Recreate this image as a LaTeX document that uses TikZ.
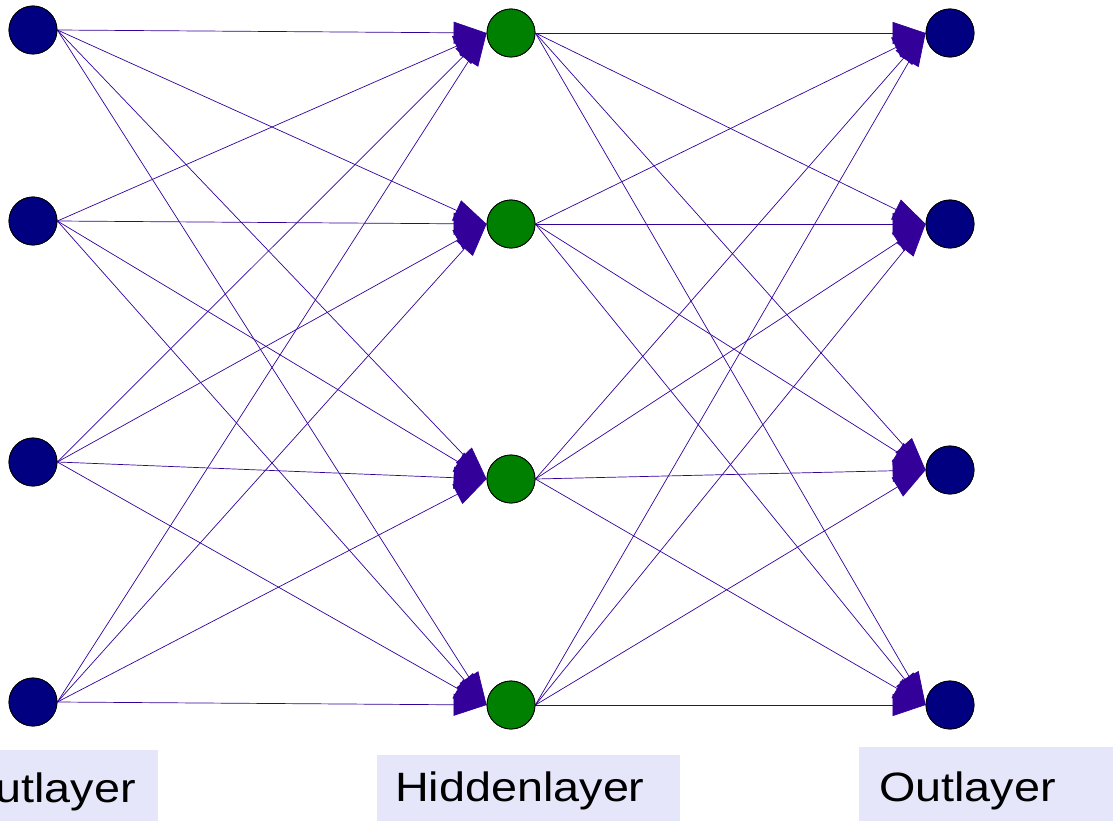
\documentclass[tikz,border=0pt]{standalone}
\usepackage{fontspec}
\setmainfont{Liberation Sans}
\usetikzlibrary{arrows.meta}
\definecolor{navy}{RGB}{0,0,128}
\definecolor{dgreen}{RGB}{0,128,0}
\definecolor{edgec}{RGB}{51,0,153}
\definecolor{lav}{RGB}{230,230,250}
\begin{document}
\begin{tikzpicture}[x=1pt,y=-1pt,
  neuron/.style={circle,draw=black,line width=0.8pt,minimum size=48pt,inner sep=0pt},
  inn/.style={neuron,fill=navy},
  hid/.style={neuron,fill=dgreen},
  outn/.style={neuron,fill=navy},
  conn/.style={draw=edgec,line width=0.7pt,-{Triangle[length=33pt,width=22pt]}},
  lbl/.style={font=\fontsize{41}{41}\selectfont,inner sep=0pt,text=black}]
\useasboundingbox (0,0) rectangle (1113,821);
% label boxes
\fill[lav] (0,750) rectangle (158,821);
\fill[lav] (377,755) rectangle (680,821);
\fill[lav] (859,747) rectangle (1113,821);
% neurons
\node[inn] (i1) at (33,30) {};
\node[inn] (i2) at (33,221) {};
\node[inn] (i3) at (33,462) {};
\node[inn] (i4) at (33,702) {};
\node[hid] (h1) at (511,33) {};
\node[hid] (h2) at (511,224) {};
\node[hid] (h3) at (511,479) {};
\node[hid] (h4) at (511,705) {};
\node[outn] (o1) at (950,33) {};
\node[outn] (o2) at (950,224) {};
\node[outn] (o3) at (950,470) {};
\node[outn] (o4) at (950,705) {};
% connections
\foreach \a in {1,...,4}{
  \foreach \b in {1,...,4}{
    \draw[conn] (i\a.east) -- (h\b.west);
    \draw[conn] (h\a.east) -- (o\b.west);
  }
}
% redraw neurons on top
\foreach \n in {i1,i2,i3,i4,o1,o2,o3,o4}{
  \fill[navy,draw=black,line width=0.8pt] (\n) circle (24pt);
}
\foreach \n in {h1,h2,h3,h4}{
  \fill[dgreen,draw=black,line width=0.8pt] (\n) circle (24pt);
}
% labels
\node[lbl,anchor=base east] (lin) at (136,802) {\scalebox{1.14}[1]{Outlayer}};
\node[lbl,anchor=base west] (lhid) at (395,801) {\scalebox{1.14}[1]{Hiddenlayer}};
\node[lbl,anchor=base west] (lout) at (879,801) {\scalebox{1.14}[1]{Outlayer}};
\end{tikzpicture}
\end{document}
